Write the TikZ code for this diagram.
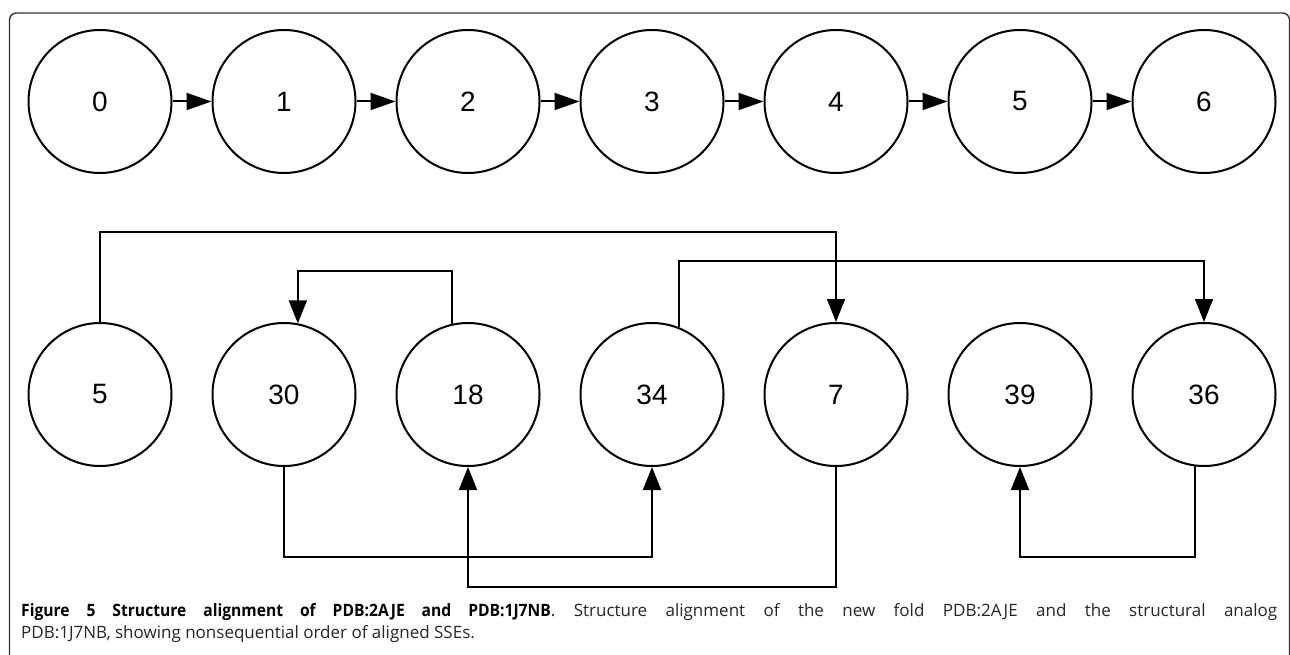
\documentclass[tikz,border=0pt]{standalone}
\usepackage{fontspec}
\setmainfont{Liberation Sans}
\newfontfamily\capfont{Open Sans}[BoldFeatures={FakeStretch=0.92}]
\usetikzlibrary{arrows.meta}
\tikzset{
  sse/.style={circle,draw,line width=2pt,minimum size=143pt,inner sep=0pt,font=\fontsize{28}{30}\selectfont},
  toparr/.style={line width=2pt,-{Triangle[length=25pt,width=17pt]}},
  conn/.style={line width=1.8pt,-{Triangle[length=23pt,width=18pt]}},
  frame/.style={draw=black!80,line width=1.4pt,rounded corners=7pt},
  capline/.style={anchor=base west,inner sep=0pt,text=black!85,font=\capfont\fontsize{17}{20}\selectfont}
}
\begin{document}
\begin{tikzpicture}[x=1pt,y=-1pt]
\useasboundingbox (0,0) rectangle (1290,655);
\clip (0,0) rectangle (1290,655);
\draw[frame] (9.5,13) rectangle (1289.5,700);
% top row
\foreach \i/\x in {0/100,1/284,2/468,3/652,4/836,5/1020,6/1204}
  \node[sse] (t\i) at (\x,101.5) {\i};
\foreach \a/\b in {0/1,1/2,2/3,3/4,4/5,5/6}
  \draw[toparr] (t\a) -- (t\b);
% bottom row
\node[sse] (b5)  at (100,394.5) {5};
\node[sse] (b30) at (284,394.5) {30};
\node[sse] (b18) at (468,394.5) {18};
\node[sse] (b34) at (652,394.5) {34};
\node[sse] (b7)  at (836,394.5) {7};
\node[sse] (b39) at (1020,394.5) {39};
\node[sse] (b36) at (1204,394.5) {36};
\coordinate (h1) at (0,232);
\coordinate (h2) at (0,261);
\coordinate (h3) at (0,271);
\coordinate (l1) at (0,557);
\coordinate (l2) at (0,587);
\draw[conn] (b5.north) -- (b5.north |- h1) -- (b7.north |- h1) -- (b7.north);
\draw[conn] (b18.103) -- (b18.103 |- h3) -- (b30.79 |- h3) -- (b30.79);
\draw[conn] (b34.68) -- (b34.68 |- h2) -- (b36.north |- h2) -- (b36.north);
\draw[conn] (b30.south) -- (b30.south |- l1) -- (b34.south |- l1) -- (b34.south);
\draw[conn] (b7.south) -- (b7.south |- l2) -- (b18.south |- l2) -- (b18.south);
\draw[conn] (b36.263) -- (b36.263 |- l1) -- (b39.south |- l1) -- (b39.south);
% caption
\node[capline] (cap1) at (21,616)
  {\makebox[1256pt][s]{\textbf{\color{black}Figure 5 Structure alignment of PDB:2AJE and PDB:1J7NB}. Structure alignment of the new fold PDB:2AJE and the structural analog}};
\node[capline] (cap2) at (21,638)
  {PDB:1J7NB, showing nonsequential order of aligned SSEs.};
\end{tikzpicture}
\end{document}
